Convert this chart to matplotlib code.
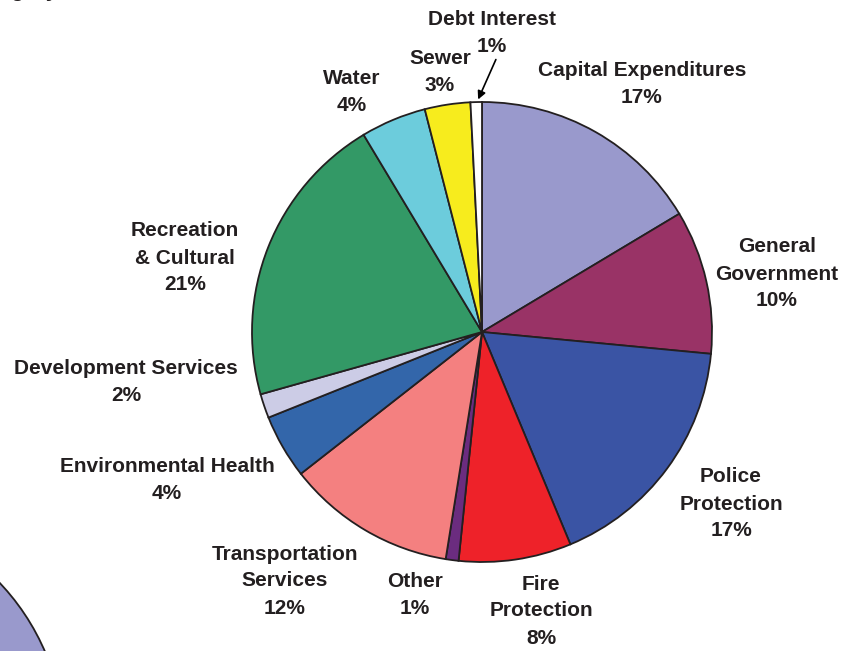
import matplotlib

matplotlib.use("Agg")
import matplotlib.pyplot as plt  # noqa: E402

plt.rcParams["font.family"] = ["Liberation Sans", "DejaVu Sans"]

# slice values (share of spending, %), clockwise from 12 o'clock
categories = [
    "Capital Expenditures", "General Government", "Police Protection",
    "Fire Protection", "Other", "Transportation Services",
    "Environmental Health", "Development Services", "Recreation & Cultural",
    "Water", "Sewer", "Debt Interest",
]
shares = [16.4, 10.1, 17.2, 7.9, 0.9, 11.9, 4.5, 1.7, 20.75, 4.6, 3.2, 0.8]
pct_labels = ["17%", "10%", "17%", "8%", "1%", "12%", "4%", "2%", "21%", "4%", "3%", "1%"]
label_lines = [
    "Capital Expenditures", "General\nGovernment", "Police\nProtection",
    "Fire\nProtection", "Other", "Transportation\nServices",
    "Environmental Health", "Development Services", "Recreation\n& Cultural",
    "Water", "Sewer", "Debt Interest",
]
colors = ["#9999CC", "#993366", "#3A54A4", "#EE2229", "#6B2C7F", "#F48080",
          "#3366AA", "#CCCCE6", "#339966", "#6CCCDC", "#F7EC1D", "#FFFFFF"]

# label centre positions in pixels (x, y from top)
label_pos = [(642, 84), (777, 274), (731, 504), (541, 611), (415, 595),
             (285, 581), (167, 480), (126, 382), (185, 258), (352, 92),
             (440, 72), (492, 33)]
LINE_STEP = 27

W, H = 860, 651
EDGE = "#231F20"

fig = plt.figure(figsize=(W / 100, H / 100), dpi=100)
ax = fig.add_axes([0, 0, 1, 1])

ax.pie(
    shares,
    colors=colors,
    startangle=90,
    counterclock=False,
    center=(482, H - 332),
    radius=230,
    frame=True,
    wedgeprops={"linewidth": 1.3, "edgecolor": EDGE},
)

# neighbouring chart peeking in at the bottom-left corner
ax.pie([1], colors=["#9999CC"], center=(-170, H - 744), radius=234, frame=True,
       wedgeprops={"linewidth": 1.3, "edgecolor": EDGE})
ax.set_xlim(0, W)
ax.set_ylim(0, H)
ax.set_aspect("equal")
ax.axis("off")

for text, pct, (x, y) in zip(label_lines, pct_labels, label_pos):
    lines = text.split("\n") + [pct]
    n = len(lines)
    for i, line in enumerate(lines):
        ly = y + (i - (n - 1) / 2) * LINE_STEP
        ax.text(x, H - ly, line, ha="center", va="center", fontsize=15,
                fontweight="bold", color=EDGE)

# arrow pointing at the thin Debt Interest slice
ax.annotate("", xy=(477, H - 102), xytext=(497, H - 57),
            arrowprops={"arrowstyle": "-|>", "color": "black", "lw": 1.2,
                        "mutation_scale": 12})

# cropped title remnant at the top edge
ax.text(10, H + 4, "gory", ha="left", va="baseline", fontsize=16,
        fontweight="bold", color=EDGE)

fig.savefig("out.png", dpi=100)
